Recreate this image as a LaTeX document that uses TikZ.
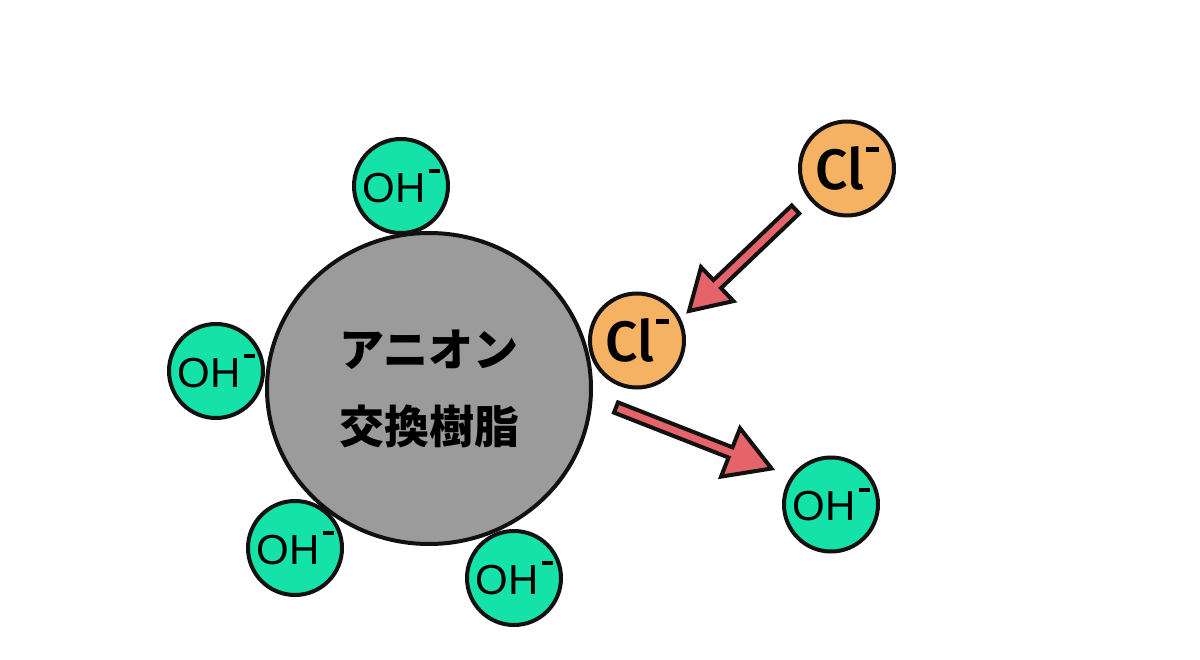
\documentclass[tikz,border=0pt]{standalone}
\usepackage{fontspec}
\newfontfamily\ohfont{Liberation Sans}
\newfontfamily\clfont{Fira Sans Medium}
\newfontfamily\cjk{Noto Sans CJK JP}
\usetikzlibrary{calc,shapes.geometric}
\definecolor{resingray}{HTML}{9B9B9B}
\definecolor{ohgreen}{HTML}{14E2A9}
\definecolor{clorange}{HTML}{F6B263}
\definecolor{arrowred}{HTML}{E4646A}
\definecolor{edge}{HTML}{111111}
\newcommand{\ohlabel}{{\ohfont\fontsize{42}{42}\selectfont OH\hspace{3pt}\rule[29pt]{11pt}{4pt}}}
\newcommand{\cllabel}{{\clfont\fontsize{57}{57}\selectfont Cl\hspace{2pt}\rule[38pt]{13pt}{4.5pt}}}
\newcommand{\blockarrow}[6]{%
  \coordinate (#1h) at ($(#3)!#6!(#2)$);
  \filldraw[blockarrowstyle] ($(#2)!#4!90:(#3)$) -- ($(#1h)!#4!90:(#3)$) -- ($(#1h)!#5!90:(#3)$) -- (#3) -- ($(#1h)!#5!-90:(#3)$) -- ($(#1h)!#4!-90:(#3)$) -- ($(#2)!#4!-90:(#3)$) -- cycle;
}
\begin{document}
\begin{tikzpicture}[x=1pt,y=-1pt,
  ion/.style={circle, draw=edge, line width=4pt, minimum size=94pt, inner sep=0pt},
  ohion/.style={ion, fill=ohgreen},
  clion/.style={ion, fill=clorange},
  resinstyle/.style={ellipse, draw=edge, line width=4pt, fill=resingray, minimum width=324pt, minimum height=311pt, inner sep=0pt},
  resintext/.style={align=center, font=\cjk\bfseries\fontsize{45}{77}\selectfont, inner sep=0pt},
  blockarrowstyle/.style={fill=arrowred, draw=edge, line width=4pt, line join=miter}]
\useasboundingbox (0,0) rectangle (1200,660);
\fill[white] (0,0) rectangle (1200,660);
\node[resinstyle] (resin) at (429,388.5) {};
\node[resintext] (rtext) at (resin.center) {アニオン\\交換樹脂};
\node[ohion] (oh1) at (401,186) {\ohlabel};
\node[ohion] (oh2) at (216,371) {\ohlabel};
\node[ohion] (oh3) at (295,548) {\ohlabel};
\node[ohion] (oh4) at (514,578) {\ohlabel};
\node[ohion] (oh5) at (831,504.5) {\ohlabel};
\node[clion] (cl1) at (847,168.5) {\cllabel};
\node[clion] (cl2) at (637,340.5) {\cllabel};
\coordinate (a1s) at (795.5,209.5);
\coordinate (a1e) at (689,311);
\coordinate (a2s) at (616,407.5);
\coordinate (a2e) at (771.5,468.5);
\blockarrow{a1}{a1s}{a1e}{5.5pt}{23.5pt}{39pt}
\blockarrow{a2}{a2s}{a2e}{5.5pt}{26pt}{44pt}
\end{tikzpicture}
\end{document}
